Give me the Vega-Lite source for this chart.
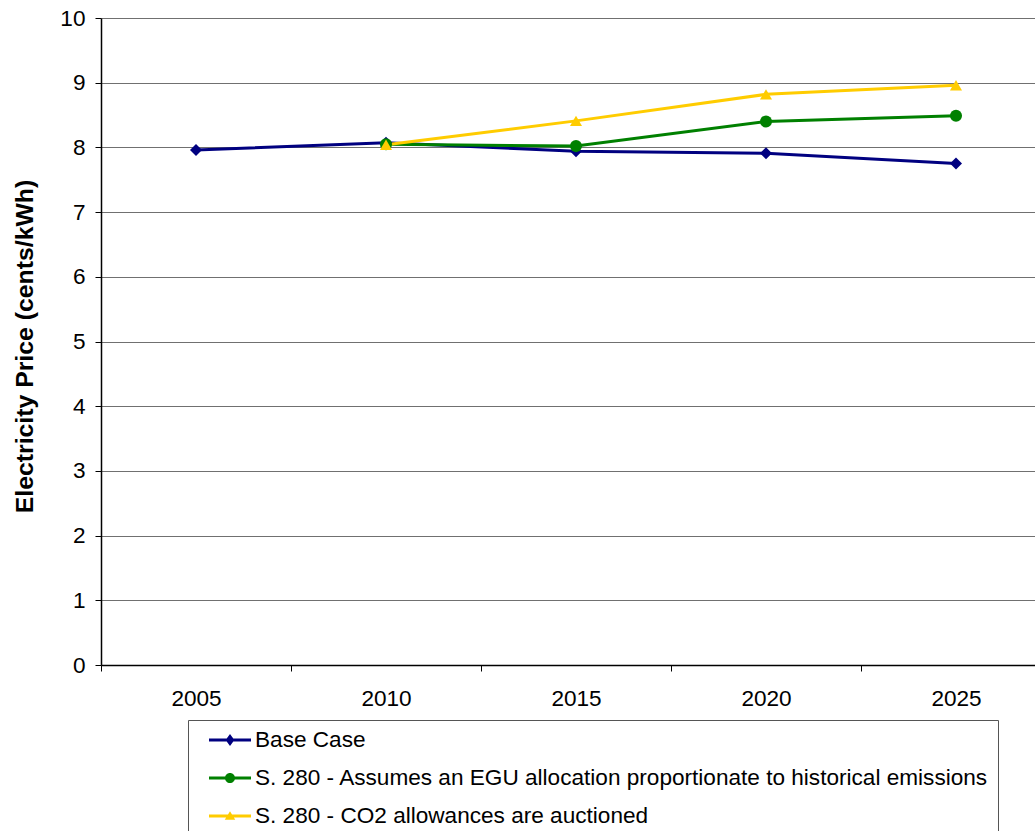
{
  "$schema": "https://vega.github.io/schema/vega-lite/v6.json",
  "width": 934,
  "height": 647,
  "autosize": {"type": "none"},
  "padding": {"left": 101, "top": 18, "right": 0, "bottom": 166},
  "background": "white",
  "config": {
    "view": {"stroke": null},
    "font": "Liberation Sans",
    "legend": {
      "orient": "none",
      "legendX": 87,
      "legendY": 702,
      "title": null,
      "direction": "vertical",
      "labelFontSize": 22.6,
      "labelColor": "black",
      "labelLimit": 1000,
      "symbolSize": 1764,
      "symbolStrokeWidth": 0,
      "symbolOffset": 12,
      "labelOffset": 4,
      "clipHeight": 22,
      "rowPadding": 15,
      "padding": 9,
      "strokeColor": "#555555",
      "fillColor": "white"
    }
  },
  "data": {
    "values": [
      {"year": 2005, "series": "Base Case", "price": 7.96},
      {"year": 2010, "series": "Base Case", "price": 8.07},
      {"year": 2015, "series": "Base Case", "price": 7.94},
      {"year": 2020, "series": "Base Case", "price": 7.91},
      {"year": 2025, "series": "Base Case", "price": 7.75},
      {"year": 2010, "series": "S. 280 - Assumes an EGU allocation proportionate to historical emissions", "price": 8.05},
      {"year": 2015, "series": "S. 280 - Assumes an EGU allocation proportionate to historical emissions", "price": 8.02},
      {"year": 2020, "series": "S. 280 - Assumes an EGU allocation proportionate to historical emissions", "price": 8.40},
      {"year": 2025, "series": "S. 280 - Assumes an EGU allocation proportionate to historical emissions", "price": 8.49},
      {"year": 2010, "series": "S. 280 - CO2 allowances are auctioned", "price": 8.04},
      {"year": 2015, "series": "S. 280 - CO2 allowances are auctioned", "price": 8.41},
      {"year": 2020, "series": "S. 280 - CO2 allowances are auctioned", "price": 8.82},
      {"year": 2025, "series": "S. 280 - CO2 allowances are auctioned", "price": 8.96}
    ]
  },
  "encoding": {
    "x": {
      "field": "year",
      "type": "quantitative",
      "scale": {"domain": [2002.5, 2027.0789], "nice": false, "zero": false},
      "axis": {
        "title": null,
        "grid": false,
        "values": [2002.5, 2005, 2007.5, 2010, 2012.5, 2015, 2017.5, 2020, 2022.5, 2025],
        "labelExpr": "datum.value % 5 === 0 ? format(datum.value, 'd') : ''",
        "labelOverlap": false,
        "labelFlush": false,
        "labelFontSize": 22.6,
        "labelColor": "black",
        "labelPadding": 16,
        "tickSize": 6,
        "tickColor": "black",
        "tickOpacity": {"condition": {"test": "datum.value % 5 === 0", "value": 0}, "value": 1},
        "domainColor": "black",
        "domainWidth": 1.5
      }
    },
    "y": {
      "field": "price",
      "type": "quantitative",
      "scale": {"domain": [0, 10], "nice": false},
      "axis": {
        "title": "Electricity Price (cents/kWh)",
        "titleFontSize": 24.8,
        "titleFontWeight": "bold",
        "titleColor": "black",
        "titlePadding": 22,
        "titleY": 328,
        "values": [0, 1, 2, 3, 4, 5, 6, 7, 8, 9, 10],
        "labelFontSize": 22.6,
        "labelColor": "black",
        "labelPadding": 10,
        "tickSize": 6,
        "tickColor": "black",
        "domainColor": "black",
        "domainWidth": 1.5,
        "grid": true,
        "gridColor": "#707070",
        "gridWidth": 1.2
      }
    },
    "color": {
      "field": "series",
      "type": "nominal",
      "scale": {
        "domain": [
          "Base Case",
          "S. 280 - Assumes an EGU allocation proportionate to historical emissions",
          "S. 280 - CO2 allowances are auctioned"
        ],
        "range": ["#000080", "#008000", "#FFCC00"]
      },
      "legend": null
    }
  },
  "layer": [
    {
      "mark": {"type": "line", "strokeWidth": 3}
    },
    {
      "mark": {"type": "point", "filled": true, "size": 145, "opacity": 1},
      "encoding": {
        "shape": {
          "field": "series",
          "type": "nominal",
          "scale": {
            "domain": [
              "Base Case",
              "S. 280 - Assumes an EGU allocation proportionate to historical emissions",
              "S. 280 - CO2 allowances are auctioned"
            ],
            "range": ["diamond", "circle", "triangle-up"]
          },
          "legend": null
        }
      }
    },
    {
      "description": "Legend key: line-with-marker symbols, drawn below the plot floor so only the legend shows",
      "mark": {
        "type": "point",
        "filled": true,
        "opacity": 1,
        "clip": true,
        "color": {"expr": "(datum.series || datum.value) === 'Base Case' ? '#000080' : ((datum.series || datum.value) === 'S. 280 - CO2 allowances are auctioned' ? '#FFCC00' : '#008000')"}
      },
      "encoding": {
        "y": {"datum": -5},
        "color": null,
        "shape": {
          "field": "series",
          "type": "nominal",
          "scale": {
            "domain": [
              "Base Case",
              "S. 280 - Assumes an EGU allocation proportionate to historical emissions",
              "S. 280 - CO2 allowances are auctioned"
            ],
            "range": [
              "M-1,-0.07L1,-0.07L1,0.07L-1,0.07ZM0,-0.29L0.21,0L0,0.29L-0.21,0Z",
              "M-1,-0.07L1,-0.07L1,0.07L-1,0.07ZM-0.24,0A0.24,0.24 0 1,1 0.24,0A0.24,0.24 0 1,1 -0.24,0Z",
              "M-1,-0.07L1,-0.07L1,0.07L-1,0.07ZM0,-0.23L0.25,0.18L-0.25,0.18Z"
            ]
          },
          "legend": {"title": null}
        }
      }
    }
  ],
  "resolve": {"scale": {"shape": "independent"}}
}
